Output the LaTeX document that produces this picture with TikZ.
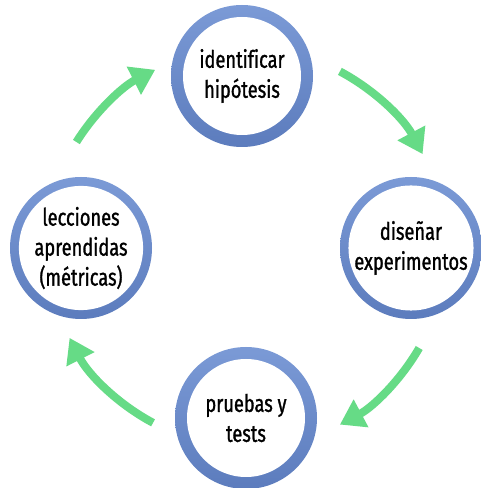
\documentclass[tikz,border=0pt]{standalone}
\usepackage{fontspec}
\setmainfont{Fira Sans}[FakeStretch=0.76, FakeBold=1.2, Ligatures=NoCommon]
\usetikzlibrary{arrows.meta}
\definecolor{ringtop}{HTML}{7B9AD6}
\definecolor{ringbot}{HTML}{5C7CBD}
\definecolor{arrgreen}{HTML}{66DB86}
\begin{document}
\begin{tikzpicture}[x=1pt,y=1pt,
  ring/.style={circle, minimum size=142pt, inner sep=0pt, top color=ringtop, bottom color=ringbot, draw=none},
  lbl/.style={circle, minimum size=118pt, inner sep=0pt, fill=white, align=center, font=\fontsize{24}{30}\selectfont},
  cyc/.style={draw=arrgreen, line width=8pt, -{Triangle[length=24pt,width=30pt]}}]
\useasboundingbox[fill=white] (0,0) rectangle (481,488);
\coordinate (c) at (246,240);
\node[ring] (r1) at (242,412) {};
\node[lbl] (n1) at (r1) {identificar\\hipótesis};
\node[ring] (r2) at (411,240) {};
\node[lbl] (n2) at (r2) {diseñar\\experimentos};
\node[ring] (r3) at (246,70) {};
\node[lbl] (n3) at (r3) {pruebas y\\tests};
\node[ring] (r4) at (81,240) {};
\node[lbl] (n4) at (r4) {lecciones\\aprendidas\\(métricas)};
\path (c) ++(148:200) coordinate (a1);
\path (c) ++(62:200) coordinate (a2);
\path (c) ++(-30:200) coordinate (a3);
\path (c) ++(-118:198) coordinate (a4);
\draw[cyc] (a1) arc[start angle=148, end angle=117, radius=200];
\draw[cyc] (a2) arc[start angle=62, end angle=28, radius=200];
\draw[cyc] (a3) arc[start angle=-30, end angle=-62, radius=200];
\draw[cyc] (a4) arc[start angle=-118, end angle=-153, radius=198];
\end{tikzpicture}
\end{document}
